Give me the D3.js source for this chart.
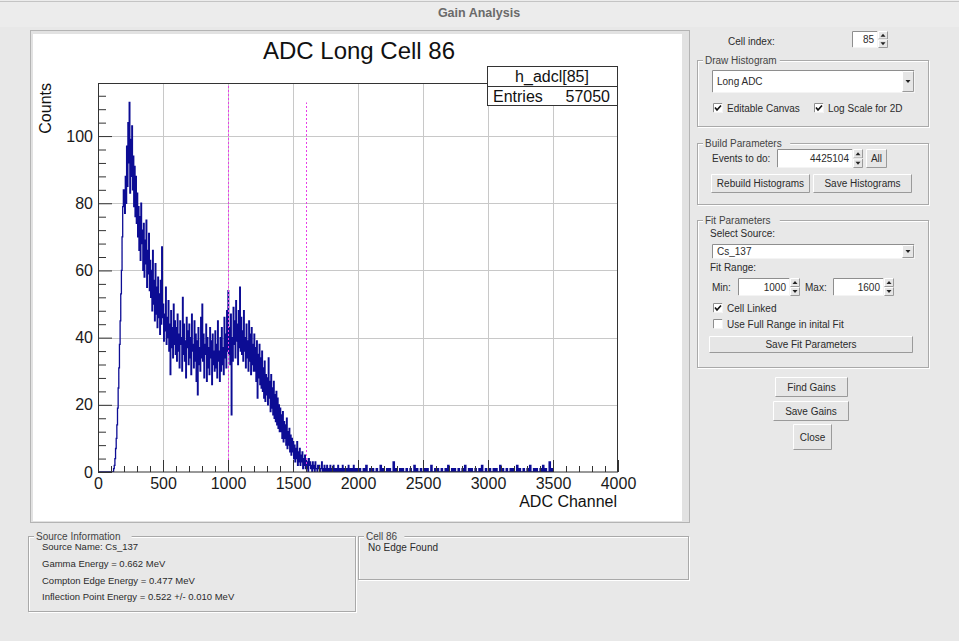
<!DOCTYPE html>
<html><head><meta charset="utf-8">
<script src="https://cdn.jsdelivr.net/npm/d3@7"></script>
<style>
body{margin:0;background:#e8e8e8;overflow:hidden;}
svg{display:block;}
text{font-family:"Liberation Sans",Arial,Helvetica,sans-serif;}
</style>
</head><body>
<svg id="c" width="959" height="641"></svg>
<script>
// ---------------- data ----------------
// main region: 5-channel bins, channels 0..1999
const mainBinWidth = 5;
const mainCounts = [
  0,0,0,0,0,0,0,0,0,0,0,0,0,0,0,0,0,0,0,0,
  0,0,0,0,1,2,4,7,10,14,19,25,31,38,45,53,60,70,79,84,
  82,77,88,80,97,85,104,92,110,83,99,88,103,84,94,79,91,76,88,74,
  83,70,79,66,76,63,80,68,72,60,74,58,69,62,75,55,66,59,71,54,
  63,52,60,48,66,50,57,45,62,47,55,43,58,46,53,41,57,44,67,46,
  50,39,47,42,55,38,46,40,51,36,44,29,48,37,43,34,50,38,45,35,
  43,33,47,36,41,31,45,38,40,30,52,35,44,33,39,28,46,37,42,32,
  44,34,40,29,47,36,38,31,45,33,41,27,39,23,43,32,37,30,46,34,
  50,33,41,28,38,35,44,27,40,31,37,29,43,34,39,26,41,32,36,30,
  42,31,38,28,45,33,36,27,40,30,43,32,37,29,46,34,41,31,48,36,
  54,35,43,32,47,17,40,33,49,38,45,34,51,39,44,32,48,37,55,36,
  46,35,42,33,48,36,40,31,44,34,39,30,45,33,41,29,43,32,38,30,
  41,30,37,27,39,22,35,28,38,26,34,25,36,24,31,22,33,21,29,23,
  28,20,34,22,27,18,29,19,25,17,27,16,23,15,24,14,22,13,20,12,
  19,12,17,10,18,9,15,10,14,8,16,7,12,8,13,6,11,5,10,6,
  9,4,8,3,7,4,9,2,6,3,7,2,5,3,6,1,4,2,5,1,
  4,1,3,0,4,2,3,1,2,0,3,1,2,0,3,1,1,0,2,1,
  2,0,1,1,3,0,1,0,2,1,0,1,2,0,1,0,1,2,0,1,
  0,1,2,0,1,0,1,0,0,2,1,0,1,0,0,1,2,0,1,0,
  1,0,0,1,0,2,0,1,0,0,1,0,1,2,0,0,1,0,1,0
];
// tail region: 10-channel bins, channels 2000..3499
const tailStart = 2000;
const tailBinWidth = 10;
const tailCounts = [
  0,1,0,0,1,0,2,0,0,1,0,1,0,0,1,0,0,2,0,1,
  0,0,1,0,1,0,0,3,0,1,0,0,1,0,1,0,0,1,0,0,
  1,0,0,2,0,1,0,0,1,0,0,1,0,1,0,0,2,0,0,1,
  0,1,0,0,1,0,0,1,0,2,0,0,1,0,1,0,0,1,0,0,
  1,0,2,0,0,1,0,1,0,0,1,0,0,1,0,2,0,0,1,0,
  0,1,0,0,1,0,1,0,0,2,0,1,0,0,1,0,0,1,0,1,
  0,0,2,0,1,0,0,1,0,0,1,0,2,0,0,1,0,1,0,0,
  1,0,2,0,1,0,0,3,0,1
];
const xTickValues = [0,500,1000,1500,2000,2500,3000,3500,4000];
const xTickLabels = ["0","500","1000","1500","2000","2500","3000","3500","4000"];
const yTickValues = [0,20,40,60,80,100];
const yTickLabels = ["0","20","40","60","80","100"];
const fitLineChannels = [1000,1600];
const fitLineTops = [115,110];
const histTitle = "ADC Long Cell 86";
const statsName = "h_adcl[85]";
const statsLabel = "Entries";
const statsEntries = "57050";
const xTitle = "ADC Channel";
const yTitle = "Counts";
const sourceInfoLines = ["Source Name: Cs_137","Gamma Energy = 0.662 MeV","Compton Edge Energy = 0.477 MeV","Inflection Point Energy = 0.522 +/- 0.010 MeV"];

// ---------------- drawing ----------------
const svg = d3.select("#c");
const GUI_FONT = 10, TXT = "#2b2b2b";

// window title bar
svg.append("rect").attr("x",0).attr("y",0).attr("width",959).attr("height",27).attr("fill","#ececec");
svg.append("line").attr("x1",0).attr("x2",959).attr("y1",1.5).attr("y2",1.5).attr("stroke","#c4c4c4");
svg.append("text").attr("x",479).attr("y",17).attr("text-anchor","middle")
  .attr("font-size",12.5).attr("font-weight","bold").attr("fill","#6a6a6a").text("Gain Analysis");

// canvas container
svg.append("rect").attr("x",30.5).attr("y",30.5).attr("width",659).attr("height",492)
  .attr("fill","#e2e2e2").attr("stroke","#b4b4b4");
svg.append("rect").attr("x",33).attr("y",34).attr("width",649).attr("height",487).attr("fill","#ffffff");

// plot
const x = d3.scaleLinear().domain([0,4000]).range([98,618]);
const y = d3.scaleLinear().domain([0,115.8]).range([472,83]);

const plot = svg.append("g");
// grid
plot.append("g").selectAll("line").data(xTickValues.filter(v=>v>0&&v<4000)).join("line")
  .attr("x1",d=>Math.round(x(d))+0.5).attr("x2",d=>Math.round(x(d))+0.5)
  .attr("y1",y.range()[1]).attr("y2",y.range()[0]).attr("stroke","#c8c8c8").attr("stroke-width",1);
plot.append("g").selectAll("line").data(yTickValues.filter(v=>v>0)).join("line")
  .attr("y1",d=>Math.round(y(d))+0.5).attr("y2",d=>Math.round(y(d))+0.5)
  .attr("x1",x.range()[0]).attr("x2",x.range()[1]).attr("stroke","#c8c8c8").attr("stroke-width",1);

// histogram
svg.append("clipPath").attr("id","frameClip").append("rect")
  .attr("x",98).attr("y",83).attr("width",520).attr("height",389);
const pts = mainCounts.map((c,i)=>[i*mainBinWidth,c])
  .concat(tailCounts.map((c,j)=>[tailStart+j*tailBinWidth,c]));
const lastEdge = tailStart+tailCounts.length*tailBinWidth;
pts.push([lastEdge, tailCounts[tailCounts.length-1]]);
pts.push([lastEdge, 0]);
const line = d3.line().x(d=>x(d[0])).y(d=>y(d[1])).curve(d3.curveStepAfter);
plot.append("path").attr("d",line(pts)).attr("fill","none")
  .attr("stroke","#0c0c94").attr("stroke-width",1.3).attr("clip-path","url(#frameClip)");

// fit range lines
plot.append("g").selectAll("line").data(fitLineChannels).join("line")
  .attr("x1",d=>Math.round(x(d))+0.5).attr("x2",d=>Math.round(x(d))+0.5)
  .attr("y1",y(0)).attr("y2",(d,i)=>y(fitLineTops[i]))
  .attr("stroke","#e83ee8").attr("stroke-width",1).attr("stroke-dasharray","2,2");

// axes
const xMinor = d3.range(0,4001,100).filter(v=>v%500!==0);
const yMinor = d3.range(0,116,4).filter(v=>v%20!==0);
const axX = plot.append("g").attr("transform",`translate(0,${y(0)})`)
  .call(d3.axisBottom(x).tickValues(xTickValues).tickSize(-12).tickPadding(6)
    .tickFormat((d,i)=>xTickLabels[i]));
const axXm = plot.append("g").attr("transform",`translate(0,${y(0)})`)
  .call(d3.axisBottom(x).tickValues(xMinor).tickSize(-6).tickFormat(""));
const axY = plot.append("g").attr("transform",`translate(${x(0)},0)`)
  .call(d3.axisLeft(y).tickValues(yTickValues).tickSize(-14).tickPadding(5)
    .tickFormat((d,i)=>yTickLabels[i]));
const axYm = plot.append("g").attr("transform",`translate(${x(0)},0)`)
  .call(d3.axisLeft(y).tickValues(yMinor).tickSize(-8).tickFormat(""));
[axX,axXm,axY,axYm].forEach(a=>{
  a.select(".domain").remove();
  a.selectAll("line").attr("stroke","#333");
  a.selectAll("text").attr("font-size",16).attr("fill","#1a1a1a")
    .attr("font-family","Liberation Sans, Arial, sans-serif");
});

// frame
plot.append("rect").attr("x",98.5).attr("y",83.5).attr("width",519).attr("height",388.5)
  .attr("fill","none").attr("stroke","#333");

// titles
svg.append("text").attr("x",359).attr("y",59).attr("text-anchor","middle")
  .attr("font-size",24).attr("fill","#111").text(histTitle);
svg.append("text").attr("x",617).attr("y",507).attr("text-anchor","end")
  .attr("font-size",16).attr("fill","#111").text(xTitle);
svg.append("text").attr("transform","translate(51,83) rotate(-90)").attr("text-anchor","end")
  .attr("font-size",16).attr("fill","#111").text(yTitle);

// stats box
const sb = svg.append("g");
sb.append("rect").attr("x",487.5).attr("y",66.5).attr("width",130).attr("height",39)
  .attr("fill","#fff").attr("stroke","#333");
sb.append("line").attr("x1",487.5).attr("x2",617.5).attr("y1",86.5).attr("y2",86.5).attr("stroke","#333");
sb.append("text").attr("x",552).attr("y",82).attr("text-anchor","middle").attr("font-size",16).attr("fill","#111").text(statsName);
sb.append("text").attr("x",493).attr("y",102).attr("font-size",16).attr("fill","#111").text(statsLabel);
sb.append("text").attr("x",610).attr("y",102).attr("text-anchor","end").attr("font-size",16).attr("fill","#111").text(statsEntries);

// ---------------- GUI widgets ----------------
const gui = svg.append("g");
function label(xp,yp,t,anchor){
  return gui.append("text").attr("x",xp).attr("y",yp).attr("font-size",GUI_FONT)
    .attr("fill",TXT).attr("text-anchor",anchor||"start").text(t);
}
function groupBox(xp,yp,w,h,t){
  gui.append("rect").attr("x",xp+1.5).attr("y",yp+1.5).attr("width",w).attr("height",h)
    .attr("fill","none").attr("stroke","#ffffff");
  gui.append("rect").attr("x",xp+0.5).attr("y",yp+0.5).attr("width",w).attr("height",h)
    .attr("fill","none").attr("stroke","#a9a9a9");
  const tw = t.length*5.2+4;
  gui.append("rect").attr("x",xp+6).attr("y",yp-5).attr("width",tw).attr("height",10).attr("fill","#e8e8e8");
  label(xp+8,yp+3.5,t).attr("fill","#444");
}
function raised(xp,yp,w,h){
  gui.append("rect").attr("x",xp).attr("y",yp).attr("width",w).attr("height",h).attr("fill","#e6e6e6");
  gui.append("path").attr("d",`M${xp+0.5},${yp+h-0.5}V${yp+0.5}H${xp+w-0.5}`).attr("fill","none").attr("stroke","#ffffff");
  gui.append("path").attr("d",`M${xp+0.5},${yp+h-0.5}H${xp+w-0.5}V${yp+0.5}`).attr("fill","none").attr("stroke","#9a9a9a");
}
function button(xp,yp,w,h,t){
  raised(xp,yp,w,h);
  label(xp+w/2,yp+h/2+3.5,t,"middle");
}
function sunken(xp,yp,w,h){
  gui.append("rect").attr("x",xp).attr("y",yp).attr("width",w).attr("height",h).attr("fill","#ffffff");
  gui.append("path").attr("d",`M${xp+0.5},${yp+h-0.5}V${yp+0.5}H${xp+w-0.5}`).attr("fill","none").attr("stroke","#8e8e8e");
  gui.append("path").attr("d",`M${xp+0.5},${yp+h-0.5}H${xp+w-0.5}V${yp+0.5}`).attr("fill","none").attr("stroke","#f4f4f4");
}
function field(xp,yp,w,h,t,align){
  sunken(xp,yp,w,h);
  if(align==="end") label(xp+w-4,yp+h/2+3.5,t,"end");
  else label(xp+5,yp+h/2+3.5,t);
}
function spin(xp,yp,h){
  raised(xp,yp,10,h/2);
  raised(xp,yp+h/2,10,h/2);
  const cx = xp+5, m1 = yp+h/4, m2 = yp+3*h/4;
  gui.append("path").attr("d",`M${cx-2.5},${m1+1.5}L${cx},${m1-1.5}L${cx+2.5},${m1+1.5}Z`).attr("fill","#222");
  gui.append("path").attr("d",`M${cx-2.5},${m2-1.5}L${cx},${m2+1.5}L${cx+2.5},${m2-1.5}Z`).attr("fill","#222");
}
function combo(xp,yp,w,h,t){
  sunken(xp,yp,w,h);
  label(xp+5,yp+h/2+3.5,t);
  raised(xp+w-13,yp+1,12,h-2);
  const cx = xp+w-7, cy = yp+h/2;
  gui.append("path").attr("d",`M${cx-2.5},${cy-1.5}L${cx},${cy+1.5}L${cx+2.5},${cy-1.5}Z`).attr("fill","#222");
}
function checkbox(xp,yp,checked,t){
  sunken(xp,yp,10,10);
  if(checked){
    gui.append("path").attr("d",`M${xp+2},${yp+4.5}L${xp+4},${yp+7}L${xp+8},${yp+2.5}`)
      .attr("fill","none").attr("stroke","#111").attr("stroke-width",1.6);
  }
  label(xp+14,yp+8.5,t);
}

// right panel
label(728,45,"Cell index:");
field(852,31,26,17,"85","end");
spin(878,31,17);

groupBox(697,60,231,66,"Draw Histogram");
combo(712,70,203,23,"Long ADC");
checkbox(713,103,true,"Editable Canvas");
checkbox(814,103,true,"Log Scale for 2D");

groupBox(697,143,231,61,"Build Parameters");
label(712,162,"Events to do:");
field(777,149,76,19,"4425104","end");
spin(853,149,19);
button(866,149,21,19,"All");
button(711,174,99,19,"Rebuild Histograms");
button(813,174,99,19,"Save Histograms");

groupBox(697,220,231,147,"Fit Parameters");
label(710,237,"Select Source:");
combo(712,244,203,15,"Cs_137");
label(710,271,"Fit Range:");
label(712,291,"Min:");
field(738,278,52,18,"1000","end");
spin(790,278,18);
label(805,291,"Max:");
field(833,278,51,18,"1600","end");
spin(884,278,18);
checkbox(713,303,true,"Cell Linked");
checkbox(713,319,false,"Use Full Range in inital Fit");
button(709,336,204,17,"Save Fit Parameters");

button(775,377,73,20,"Find Gains");
button(773,401,76,20,"Save Gains");
button(793,424,39,26,"Close");

// bottom panels
groupBox(28,536,327,75,"Source Information");
sourceInfoLines.forEach((t,i)=>{
  label(42,[550,566.5,583.5,599.5][i],t).attr("font-size",9.5);
});
groupBox(358,536,330,43,"Cell 86");
label(368,551,"No Edge Found");
</script>
</body></html>
